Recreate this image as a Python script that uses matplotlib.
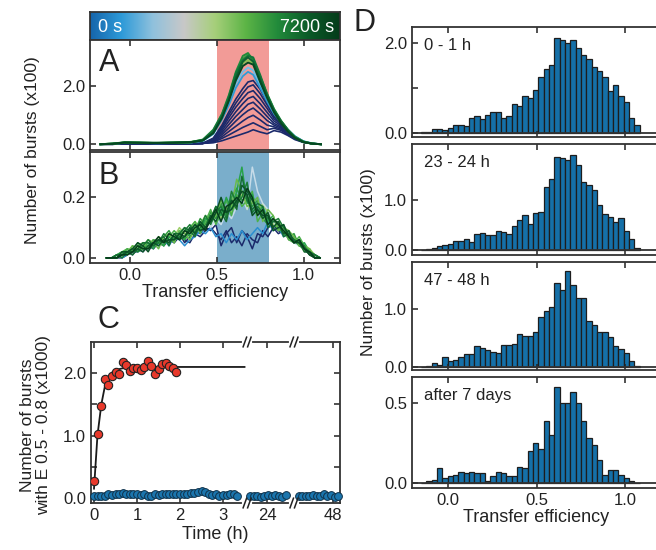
import numpy as np
import matplotlib
matplotlib.use("Agg")
import matplotlib.pyplot as plt
from matplotlib.colors import LinearSegmentedColormap

plt.rcParams["font.family"] = ["Liberation Sans", "DejaVu Sans"]
plt.rcParams["font.size"] = 12
plt.rcParams["axes.linewidth"] = 1.3
plt.rcParams["axes.edgecolor"] = "#333333"
plt.rcParams["text.color"] = "#222222"
plt.rcParams["axes.labelcolor"] = "#222222"
plt.rcParams["xtick.color"] = "#222222"
plt.rcParams["ytick.color"] = "#222222"
plt.rcParams["xtick.direction"] = "in"
plt.rcParams["ytick.direction"] = "in"
plt.rcParams["xtick.top"] = True
plt.rcParams["ytick.right"] = True
plt.rcParams["xtick.major.size"] = 4
plt.rcParams["ytick.major.size"] = 4
plt.rcParams["ytick.minor.size"] = 4
plt.rcParams["xtick.major.width"] = 1.1
plt.rcParams["ytick.major.width"] = 1.1
plt.rcParams["ytick.minor.width"] = 1.1

# ---------------- data ----------------
# panel A: transfer efficiency histograms (lines), x100 bursts
e_a = [-0.17, -0.1, -0.03, 0.05, 0.15, 0.25, 0.35, 0.42, 0.48, 0.53, 0.57, 0.61,
       0.65, 0.68, 0.71, 0.75, 0.79, 0.83, 0.87, 0.91, 0.95, 1.0, 1.05, 1.1]

a_navy = [
    [0, 0, 0.01, 0.01, 0.01, 0.02, 0.02, 0.03, 0.05, 0.12, 0.2, 0.28, 0.36, 0.42, 0.5, 0.42, 0.36, 0.47, 0.42, 0.3, 0.16, 0.06, 0.02, 0],
    [0, 0, 0.01, 0.01, 0.01, 0.02, 0.02, 0.03, 0.07, 0.2, 0.32, 0.45, 0.58, 0.66, 0.74, 0.62, 0.5, 0.55, 0.48, 0.33, 0.18, 0.07, 0.02, 0],
    [0, 0, 0.01, 0.01, 0.01, 0.02, 0.02, 0.03, 0.09, 0.26, 0.44, 0.62, 0.8, 0.92, 1.0, 0.84, 0.66, 0.6, 0.52, 0.36, 0.2, 0.07, 0.02, 0],
    [0, 0, 0.01, 0.01, 0.01, 0.02, 0.02, 0.03, 0.11, 0.33, 0.56, 0.8, 1.02, 1.16, 1.25, 1.05, 0.82, 0.66, 0.56, 0.38, 0.21, 0.08, 0.02, 0],
    [0, 0, 0.01, 0.01, 0.01, 0.02, 0.02, 0.03, 0.13, 0.4, 0.68, 0.96, 1.2, 1.38, 1.45, 1.22, 0.96, 0.72, 0.6, 0.4, 0.22, 0.08, 0.02, 0],
    [0, 0, 0.01, 0.01, 0.01, 0.02, 0.02, 0.03, 0.15, 0.47, 0.8, 1.12, 1.4, 1.58, 1.65, 1.4, 1.1, 0.8, 0.64, 0.42, 0.23, 0.09, 0.02, 0],
    [0, 0, 0.01, 0.01, 0.01, 0.02, 0.02, 0.03, 0.17, 0.54, 0.92, 1.28, 1.58, 1.78, 1.85, 1.58, 1.24, 0.88, 0.68, 0.45, 0.24, 0.09, 0.02, 0],
    [0, 0, 0.01, 0.01, 0.01, 0.02, 0.02, 0.03, 0.19, 0.6, 1.02, 1.42, 1.76, 1.98, 2.05, 1.75, 1.36, 0.95, 0.72, 0.47, 0.25, 0.09, 0.02, 0],
    [0, 0, 0.01, 0.01, 0.01, 0.02, 0.02, 0.03, 0.21, 0.66, 1.12, 1.56, 1.92, 2.15, 2.2, 1.9, 1.45, 1.0, 0.75, 0.48, 0.25, 0.09, 0.02, 0],
]
a_cyan = [
    [0, 0.01, 0.05, 0.04, 0.04, 0.05, 0.06, 0.12, 0.4, 0.9, 1.45, 2.1, 2.5, 2.65, 2.55, 2.05, 1.55, 1.1, 0.78, 0.5, 0.27, 0.1, 0.03, 0],
    [0, 0.02, 0.06, 0.05, 0.03, 0.04, 0.06, 0.11, 0.35, 0.85, 1.35, 1.95, 2.35, 2.5, 2.4, 1.95, 1.48, 1.05, 0.76, 0.5, 0.28, 0.1, 0.03, 0],
]
a_green = [
    [0, 0.02, 0.06, 0.05, 0.04, 0.05, 0.07, 0.14, 0.42, 0.98, 1.58, 2.35, 2.8, 2.9, 2.8, 2.2, 1.62, 1.12, 0.75, 0.46, 0.24, 0.08, 0.02, 0],
    [0, 0.02, 0.07, 0.05, 0.05, 0.06, 0.08, 0.15, 0.45, 1.0, 1.6, 2.4, 2.95, 3.1, 2.95, 2.3, 1.7, 1.2, 0.8, 0.48, 0.25, 0.08, 0.02, 0],
    [0, 0.01, 0.05, 0.06, 0.04, 0.05, 0.07, 0.16, 0.5, 1.05, 1.7, 2.5, 3.05, 3.15, 2.9, 2.35, 1.75, 1.22, 0.82, 0.5, 0.26, 0.09, 0.02, 0],
    [0, 0.02, 0.06, 0.05, 0.04, 0.06, 0.07, 0.14, 0.47, 1.02, 1.65, 2.45, 2.9, 3.05, 3.0, 2.4, 1.72, 1.18, 0.8, 0.5, 0.24, 0.08, 0.02, 0],
    [0, 0.02, 0.05, 0.05, 0.05, 0.05, 0.06, 0.13, 0.4, 0.95, 1.55, 2.3, 2.85, 3.0, 2.85, 2.25, 1.65, 1.15, 0.78, 0.45, 0.22, 0.07, 0.02, 0],
    [0, 0.01, 0.06, 0.05, 0.04, 0.05, 0.07, 0.13, 0.38, 0.9, 1.5, 2.2, 2.7, 2.82, 2.75, 2.15, 1.6, 1.1, 0.72, 0.44, 0.22, 0.07, 0.02, 0],
]
a_green_colors = ["#86c452", "#3aa043", "#1f8b3a", "#13753a", "#0d6030", "#064822"]

# panel B: same with less bursts, 0.03 wide bins from -0.15
b_navy = [
    [0, 0, 0, 0.01, 0.02, 0.01, 0.03, 0.02, 0.04, 0.03, 0.05, 0.04, 0.06, 0.05, 0.07, 0.06, 0.05, 0.08, 0.07, 0.09, 0.1,
     0.08, 0.06, 0.09, 0.05, 0.07, 0.04, 0.08, 0.06, 0.05, 0.09, 0.07, 0.1, 0.08, 0.09, 0.06, 0.07, 0.05, 0.03, 0.02, 0, 0],
    [0, 0, 0, 0, 0.01, 0.02, 0.02, 0.04, 0.03, 0.04, 0.06, 0.05, 0.05, 0.07, 0.08, 0.05, 0.07, 0.09, 0.08, 0.1, 0.09,
     0.11, 0.04, 0.08, 0.1, 0.05, 0.09, 0.07, 0.03, 0.08, 0.07, 0.1, 0.11, 0.09, 0.08, 0.07, 0.05, 0.06, 0.02, 0.02, 0, 0],
]
b_blue = [
    [0, 0, 0.01, 0, 0.01, 0.03, 0.02, 0.03, 0.03, 0.05, 0.04, 0.06, 0.04, 0.07, 0.06, 0.04, 0.06, 0.07, 0.09, 0.08, 0.1,
     0.07, 0.08, 0.05, 0.08, 0.06, 0.09, 0.06, 0.08, 0.1, 0.08, 0.12, 0.09, 0.1, 0.07, 0.08, 0.05, 0.06, 0.04, 0.02, 0.01, 0],
]
b_pale = [
    [0, 0, 0, 0.01, 0.02, 0.03, 0.02, 0.04, 0.03, 0.05, 0.06, 0.05, 0.07, 0.06, 0.08, 0.07, 0.09, 0.08, 0.1, 0.12, 0.1,
     0.13, 0.11, 0.15, 0.13, 0.17, 0.2, 0.16, 0.3, 0.22, 0.18, 0.16, 0.12, 0.1, 0.09, 0.08, 0.05, 0.04, 0.03, 0.02, 0, 0],
]
b_green = [
    [0, 0, 0, 0.02, 0.01, 0.03, 0.03, 0.05, 0.04, 0.04, 0.07, 0.06, 0.05, 0.07, 0.1, 0.08, 0.09, 0.12, 0.1, 0.11, 0.14,
     0.16, 0.13, 0.17, 0.15, 0.18, 0.21, 0.16, 0.19, 0.14, 0.18, 0.15, 0.11, 0.12, 0.09, 0.06, 0.07, 0.05, 0.02, 0.03, 0.01, 0],
    [0, 0, 0.01, 0.01, 0.03, 0.02, 0.05, 0.03, 0.04, 0.06, 0.05, 0.07, 0.09, 0.06, 0.08, 0.1, 0.07, 0.09, 0.13, 0.11, 0.15,
     0.13, 0.18, 0.14, 0.2, 0.23, 0.19, 0.2, 0.17, 0.19, 0.13, 0.11, 0.13, 0.1, 0.08, 0.07, 0.08, 0.04, 0.03, 0.02, 0, 0],
    [0, 0, 0.01, 0.02, 0.03, 0.02, 0.04, 0.05, 0.03, 0.06, 0.05, 0.04, 0.07, 0.09, 0.07, 0.06, 0.1, 0.12, 0.08, 0.12, 0.16,
     0.11, 0.15, 0.19, 0.14, 0.21, 0.17, 0.19, 0.22, 0.12, 0.15, 0.14, 0.1, 0.11, 0.1, 0.06, 0.05, 0.07, 0.04, 0.02, 0.01, 0],
    [0, 0, 0.01, 0.02, 0.01, 0.04, 0.02, 0.03, 0.05, 0.03, 0.06, 0.04, 0.07, 0.05, 0.09, 0.06, 0.08, 0.11, 0.09, 0.13, 0.12,
     0.17, 0.14, 0.2, 0.16, 0.22, 0.3, 0.18, 0.21, 0.15, 0.17, 0.12, 0.14, 0.09, 0.11, 0.07, 0.06, 0.04, 0.05, 0.02, 0.01, 0],
    [0, 0, 0, 0.01, 0.02, 0.04, 0.03, 0.03, 0.06, 0.05, 0.03, 0.07, 0.08, 0.05, 0.09, 0.08, 0.06, 0.1, 0.11, 0.14, 0.12,
     0.14, 0.19, 0.16, 0.17, 0.26, 0.22, 0.17, 0.18, 0.2, 0.12, 0.16, 0.14, 0.09, 0.1, 0.09, 0.07, 0.04, 0.04, 0.03, 0, 0],
    [0, 0, 0.01, 0, 0.02, 0.03, 0.02, 0.04, 0.06, 0.04, 0.05, 0.08, 0.06, 0.06, 0.07, 0.09, 0.11, 0.08, 0.1, 0.14, 0.11,
     0.15, 0.17, 0.13, 0.22, 0.18, 0.2, 0.25, 0.15, 0.17, 0.15, 0.13, 0.12, 0.13, 0.1, 0.08, 0.06, 0.05, 0.04, 0.01, 0.01, 0],
    [0, 0, 0.01, 0.01, 0.02, 0.01, 0.03, 0.05, 0.05, 0.04, 0.06, 0.07, 0.04, 0.08, 0.08, 0.1, 0.09, 0.07, 0.12, 0.1, 0.13,
     0.17, 0.15, 0.12, 0.19, 0.16, 0.27, 0.19, 0.16, 0.18, 0.17, 0.1, 0.12, 0.12, 0.07, 0.08, 0.06, 0.05, 0.02, 0.02, 0.01, 0],
    [0, 0, 0, 0.01, 0.02, 0.02, 0.03, 0.02, 0.04, 0.05, 0.04, 0.06, 0.05, 0.08, 0.06, 0.07, 0.1, 0.08, 0.12, 0.1, 0.14,
     0.12, 0.16, 0.15, 0.19, 0.17, 0.24, 0.22, 0.19, 0.16, 0.13, 0.15, 0.1, 0.12, 0.08, 0.09, 0.05, 0.06, 0.03, 0.01, 0, 0],
    [0, 0, 0, 0.02, 0.02, 0.03, 0.05, 0.04, 0.02, 0.05, 0.06, 0.05, 0.06, 0.06, 0.08, 0.07, 0.09, 0.11, 0.09, 0.1, 0.12,
     0.15, 0.2, 0.15, 0.16, 0.19, 0.22, 0.21, 0.14, 0.16, 0.14, 0.14, 0.09, 0.1, 0.11, 0.07, 0.05, 0.05, 0.03, 0.01, 0, 0],
    [0, 0, 0, 0.01, 0.01, 0.02, 0.04, 0.03, 0.03, 0.05, 0.07, 0.05, 0.08, 0.07, 0.06, 0.09, 0.08, 0.1, 0.11, 0.09, 0.13,
     0.16, 0.12, 0.17, 0.18, 0.2, 0.18, 0.23, 0.2, 0.14, 0.16, 0.11, 0.13, 0.11, 0.09, 0.07, 0.05, 0.06, 0.03, 0.02, 0, 0],
]
b_green_colors = ["#9fcf6a", "#2f9a3f", "#4bb04a", "#27a24a", "#6aba4c", "#1b7d36",
                  "#166f33", "#0d5a2a", "#0a4f25", "#053d1a"]

# panel C: bursts with E 0.5-0.8 (x1000), 5 min frames
red_y = [0.27, 1.02, 1.48, 1.91, 1.81, 1.95, 2.02, 1.98, 2.18, 2.13, 2.04, 2.09,
         2.08, 2.05, 2.1, 2.19, 2.12, 1.98, 2.06, 2.14, 2.17, 2.11, 2.08, 2.02]
fit_t = [0.0, 0.08, 0.17, 0.25, 0.33, 0.42, 0.5, 0.67, 0.83, 1.0, 3.5]
fit_y = [0.15, 1.0, 1.5, 1.78, 1.93, 2.01, 2.05, 2.08, 2.09, 2.1, 2.1]
blue_y1 = [0.03, 0.03, 0.04, 0.04, 0.06, 0.05, 0.07, 0.06, 0.08, 0.07,
           0.06, 0.06, 0.07, 0.05, 0.06, 0.04, 0.03, 0.06, 0.05, 0.06,
           0.07, 0.06, 0.06, 0.07, 0.07, 0.07, 0.07, 0.08, 0.08, 0.1,
           0.12, 0.09, 0.06, 0.05, 0.06, 0.04, 0.05, 0.05, 0.06, 0.07, 0.04]
blue_y2 = [0.04, 0.03, 0.03, 0.02, 0.04, 0.05, 0.04, 0.05, 0.03, 0.02, 0.05]
blue_y3 = [0.03, 0.04, 0.03, 0.04, 0.05, 0.04, 0.03, 0.06, 0.03, 0.05, 0.02, 0.04]
red_t = np.arange(len(red_y)) / 12
blue_t1 = np.arange(len(blue_y1)) / 12
blue_t2 = 23.6 + np.arange(len(blue_y2)) / 12
blue_t3 = 47.2 + np.arange(len(blue_y3)) / 12
c_ticks = [0, 1, 2, 3, 24, 48]

# panel D: histograms (x100), bins of 0.03 starting at -0.15
d_counts = [
    [0.01, 0.02, 0.07, 0.07, 0.05, 0.10, 0.17, 0.17, 0.15, 0.33, 0.36, 0.30, 0.40, 0.47, 0.47, 0.33, 0.36, 0.63, 0.60, 0.82, 0.77,
     0.95, 1.25, 1.42, 1.52, 2.12, 2.06, 2.00, 2.08, 1.90, 1.74, 1.65, 1.47, 1.38, 1.25, 0.92, 1.06, 0.82, 0.68, 0.32, 0.16],
    [0.01, 0.02, 0.05, 0.09, 0.11, 0.13, 0.19, 0.19, 0.22, 0.17, 0.32, 0.34, 0.30, 0.30, 0.38, 0.36, 0.32, 0.49, 0.60, 0.70, 0.52,
     0.75, 0.77, 1.27, 1.42, 1.86, 1.85, 1.80, 1.90, 1.70, 1.37, 1.30, 1.20, 0.90, 0.72, 0.67, 0.56, 0.64, 0.38, 0.23, 0.05],
    [0.00, 0.01, 0.07, 0.03, 0.16, 0.10, 0.12, 0.17, 0.21, 0.22, 0.35, 0.32, 0.28, 0.25, 0.24, 0.38, 0.38, 0.40, 0.56, 0.53, 0.54,
     0.60, 0.86, 0.96, 1.04, 1.45, 1.33, 1.66, 1.42, 1.20, 1.20, 0.80, 0.72, 0.60, 0.60, 0.52, 0.35, 0.30, 0.23, 0.10, 0.01],
    [0.00, 0.01, 0.02, 0.09, 0.03, 0.04, 0.05, 0.07, 0.06, 0.07, 0.06, 0.06, 0.01, 0.04, 0.07, 0.06, 0.04, 0.04, 0.10, 0.09, 0.20,
     0.25, 0.21, 0.39, 0.30, 0.60, 0.50, 0.50, 0.57, 0.50, 0.39, 0.28, 0.24, 0.14, 0.05, 0.08, 0.08, 0.05, 0.03, 0.01, 0.00],
]
d_labels = ["0 - 1 h", "23 - 24 h", "47 - 48 h", "after 7 days"]
d_yticks = [[0, 1, 2], [0, 1], [0, 1], [0, 0.5]]
d_yticklabels = [["0.0", "", "2.0"], ["0.0", "1.0"], ["0.0", "1.0"], ["0.0", "0.5"]]
d_ylims = [(-0.1, 2.36), (-0.1, 2.12), (-0.06, 1.82), (-0.033, 0.665)]

# ---------------- figure ----------------
W, H = 656, 550
fig = plt.figure(figsize=(W / 100, H / 100), dpi=100)


def px_axes(x0, y0, x1, y1):
    # axes from pixel box (top-left origin)
    return fig.add_axes([x0 / W, 1 - y1 / H, (x1 - x0) / W, (y1 - y0) / H])


time_cmap = LinearSegmentedColormap.from_list(
    "time", ["#1665ab", "#2d9ad8", "#8fc1dd", "#c8c8c8", "#a6cf7a", "#5cb446", "#228b3b", "#0b5a28", "#053c1a"])

# colour bar on top of A
cax = px_axes(90, 12, 340, 40)
cax.imshow(np.linspace(0, 1, 256)[None, :], aspect="auto", cmap=time_cmap)
cax.set_xticks([])
cax.set_yticks([])
cax.text(0.03, 0.45, "0 s", color="white", fontsize=13, ha="left", va="center", transform=cax.transAxes)
cax.text(0.975, 0.45, "7200 s", color="white", fontsize=13, ha="right", va="center", transform=cax.transAxes)

# A
ax_a = px_axes(90, 40, 340, 150)
ax_a.axvspan(0.5, 0.8, color="#f29b97", lw=0, zorder=0)
for y in a_navy:
    ax_a.plot(e_a, y, color="#1b2a6b", lw=1.2)
for y, c in zip(a_cyan, ["#6cc0ea", "#2f9bd6"]):
    ax_a.plot(e_a, y, color=c, lw=1.3)
for y, c in zip(a_green, a_green_colors):
    ax_a.plot(e_a, y, color=c, lw=1.4)
ax_a.set_xlim(-0.23, 1.21)
ax_a.set_ylim(-0.2, 3.6)
ax_a.set_xticks([0, 0.5, 1.0])
ax_a.set_xticklabels([])
ax_a.set_yticks([0, 2])
ax_a.set_yticklabels(["0.0", "2.0"])
ax_a.text(0.035, 0.79, "A", fontsize=22, va="center", transform=ax_a.transAxes)

# B
ax_b = px_axes(90, 152, 340, 263)
ax_b.axvspan(0.5, 0.8, color="#7aaecb", lw=0, zorder=0)
e_b = np.arange(42) * 0.03 - 0.135
for y in b_navy:
    ax_b.plot(e_b, y, color="#1b2a6b", lw=1.1)
for y in b_blue:
    ax_b.plot(e_b, y, color="#2b8fd0", lw=1.1)
ax_b.plot(e_b, b_green[0], color=b_green_colors[0], lw=1.1)
for y in b_pale:
    ax_b.plot(e_b, y, color="#c6dce9", lw=1.1)
for y, c in zip(b_green[1:], b_green_colors[1:]):
    ax_b.plot(e_b, y, color=c, lw=1.1)
ax_b.set_xlim(-0.23, 1.21)
ax_b.set_ylim(-0.017, 0.35)
ax_b.set_xticks([0, 0.5, 1.0])
ax_b.set_xticklabels(["0.0", "0.5", "1.0"])
ax_b.set_yticks([0, 0.2])
ax_b.set_yticklabels(["0.0", "0.2"])
ax_b.set_xlabel("Transfer efficiency", fontsize=13, labelpad=1)
ax_b.text(0.035, 0.78, "B", fontsize=22, va="center", transform=ax_b.transAxes)

fig.text(0.049, 0.727, "Number of bursts (x100)", rotation=90, ha="center", va="center", fontsize=12.5)


# C, broken time axis (0-3.5 h, ~24 h, ~48 h)
def to_axis(t):
    t = np.asarray(t, dtype=float)
    return np.where(t < 13, t, np.where(t < 36, t - 19.97, t - 42.44))


def from_axis(u):
    u = np.asarray(u, dtype=float)
    return np.where(u < 3.56, u, np.where(u < 4.65, u + 19.97, u + 42.44))


ax_c = px_axes(91, 342, 340, 503)
ax_c.set_xscale("function", functions=(to_axis, from_axis))
ax_c.plot(fit_t, fit_y, color="#1a1a1a", lw=1.3, zorder=2)
ax_c.plot(red_t, red_y, "o", ms=6, mfc="#e8392b", mec="#222222", mew=0.8, zorder=3)
for t, y in [(blue_t1, blue_y1), (blue_t2, blue_y2), (blue_t3, blue_y3)]:
    ax_c.plot(t, y, "o", ms=5.6, mfc="#1b75ad", mec="#10324a", mew=0.7, zorder=3, clip_on=False)
ax_c.set_xlim(-0.07, 48.16)
ax_c.set_ylim(-0.08, 2.5)
ax_c.set_xticks(c_ticks)
ax_c.set_xticklabels([str(t) for t in c_ticks])
ax_c.minorticks_off()
ax_c.set_yticks([0, 1, 2])
ax_c.set_yticklabels(["0.0", "1.0", "2.0"])
ax_c.set_yticks([0.5, 1.5], minor=True)
ax_c.set_xlabel("Time (h)", fontsize=13, labelpad=2)

u_lo, u_hi = float(to_axis(-0.07)), float(to_axis(48.16))
for u in (3.56, 4.65):
    f = (u - u_lo) / (u_hi - u_lo)
    for yy in (0, 1):
        ax_c.plot([f - 0.013, f + 0.013], [yy, yy], transform=ax_c.transAxes, color="white",
                  lw=3, clip_on=False, zorder=5)
        for dx in (-0.009, 0.009):
            ax_c.plot([f + dx - 0.007, f + dx + 0.007], [yy - 0.03, yy + 0.03], transform=ax_c.transAxes,
                      color="#222222", lw=1.1, clip_on=False, zorder=6)

fig.text(0.165, 0.418, "C", fontsize=22, ha="center", va="center")
fig.text(0.054, 0.227, "Number of bursts\nwith E 0.5 - 0.8 (x1000)", rotation=90, ha="center", va="center",
         fontsize=12.5, linespacing=1.15)

# D, stacked histograms (frame runs past the right edge of the figure)
d_boxes = [(27, 137), (144, 255), (262, 370), (377, 488)]
d_left = np.arange(41) * 0.03 - 0.15
for i, (y0, y1) in enumerate(d_boxes):
    ax = px_axes(412, y0, 661, y1)
    ax.bar(d_left, d_counts[i], width=0.03, align="edge", color="#1570a8", edgecolor="#1d1d1d", lw=0.9)
    ax.axhline(0, color="#333333", lw=1.3)
    ax.set_xlim(-0.2, 1.2)
    ax.set_ylim(*d_ylims[i])
    ax.tick_params(axis="y", right=False)
    ax.set_xticks([0, 0.5, 1.0])
    ax.set_yticks(d_yticks[i])
    ax.set_yticklabels(d_yticklabels[i])
    ax.text(0.05, 0.83, d_labels[i], fontsize=12, va="center", transform=ax.transAxes)
    if i < 3:
        ax.set_xticklabels([])
    else:
        ax.set_xticklabels(["0.0", "0.5", "1.0"])
        ax.set_xlabel("Transfer efficiency", fontsize=13, labelpad=1)

fig.text(0.555, 0.958, "D", fontsize=22, ha="center", va="center")
fig.text(0.561, 0.524, "Number of bursts (x100)", rotation=90, ha="center", va="center", fontsize=12.5)

fig.savefig("out.png", dpi=100)
